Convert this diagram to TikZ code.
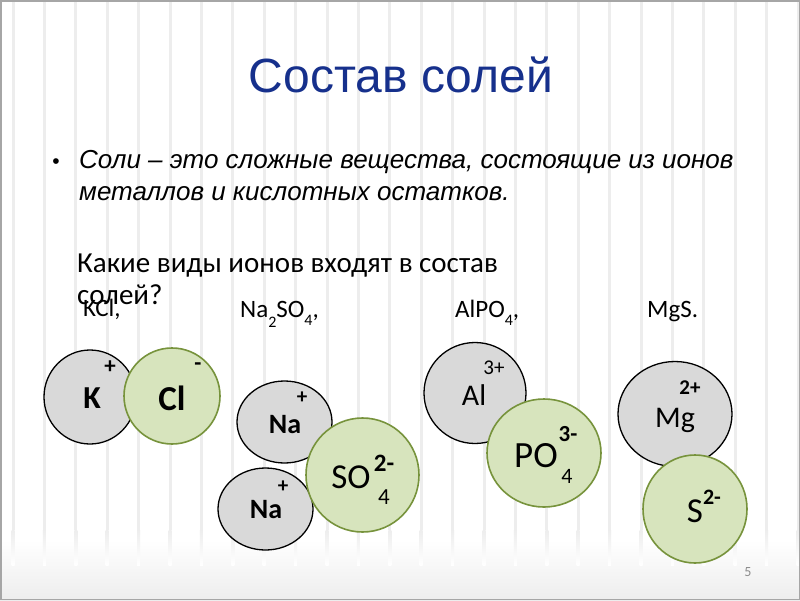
\documentclass[tikz,border=0pt]{standalone}
\usepackage{fontspec}
\setmainfont{Liberation Sans}
\newfontfamily\calibri{Carlito}
\usetikzlibrary{shapes.geometric, positioning}

\definecolor{titleblue}{RGB}{22,48,140}
\definecolor{catfill}{RGB}{217,217,217}
\definecolor{anfill}{RGB}{215,228,189}
\definecolor{anedge}{RGB}{119,147,60}
\definecolor{stripe}{RGB}{237,237,237}
\definecolor{pagegrey}{RGB}{140,140,140}

\newcommand\fsz[1]{\fontsize{#1}{#1}\selectfont}
\newcommand\lowsub[2]{\raisebox{-#1pt}{\fsz{16}#2}}

\begin{document}
\begin{tikzpicture}[x=1pt, y=-1pt,
    cation/.style = {ellipse, draw=black, fill=catfill, line width=1.3pt, inner sep=0pt},
    anion/.style = {ellipse, draw=anedge, fill=anfill, line width=1.6pt, inner sep=0pt},
    sym/.style = {anchor=base, inner sep=0pt, font=\calibri\fsz{32}},
    chg/.style = {inner sep=0pt, font=\calibri\bfseries\fsz{21}},
    formula/.style = {anchor=base west, inner sep=0pt, font=\calibri\fsz{25}}
    ]
    \useasboundingbox (0,0) rectangle (800,600);
    % background with stripes
    \fill[white] (0,0) rectangle (800,600);
    \shade[top color=white, bottom color=black!7] (0,540) rectangle (800,600);
    \foreach \sx in {0,...,25} {
        \fill[stripe] ({11.5+31.4*\sx},0) rectangle ++(3,530);
        \shade[top color=stripe, bottom color=white] ({11.5+31.4*\sx},530) rectangle ++(3,35);
    }
    \draw[black!35, line width=1.5pt] (0.75,0.75) rectangle (799.25,599.25);

    % texts
    \node (title) at (401,92) [anchor=base, inner sep=0pt, font=\fsz{48}, text=titleblue] {Состав солей};
    \node (bullet) at (56,168) [anchor=base, inner sep=0pt, font=\fsz{21}] {•};
    \node (def1) at (79,168) [anchor=base west, inner sep=0pt, font=\itshape\fsz{26}]
        {Соли – это сложные вещества, состоящие из ионов};
    \node (def2) at (79,200) [anchor=base west, inner sep=0pt, font=\itshape\fsz{26}]
        {металлов и кислотных остатков.};
    \node (ask1) at (77,272) [anchor=base west, inner sep=0pt, font=\calibri\fsz{29}]
        {Какие виды ионов входят в состав};
    \node (ask2) at (77,304) [anchor=base west, inner sep=0pt, font=\calibri\fsz{29}] {солей?};

    \node (kcl) at (83,316) [formula] {KCl,};
    \node (na2so4) at (240,317) [formula] {Na\lowsub{10}{2}SO\lowsub{8}{4},};
    \node (alpo4) at (455,317) [formula] {AlPO\lowsub{8}{4},};
    \node (mgs) at (647,317) [formula] {MgS.};

    % KCl
    \node (k) at (90,397) [cation, minimum width=92pt, minimum height=94pt] {};
    \node (cl) at (172,396) [anion, minimum width=96pt, minimum height=96pt] {};
    \node (kT) at (92,408) [sym, font=\calibri\bfseries\fsz{32}] {K};
    \node (kQ) at (110,367) [chg, font=\calibri\bfseries\fsz{23}] {+};
    \node (clT) at (172,410) [sym, font=\calibri\bfseries\fsz{35}] {Cl};
    \node (clQ) at (198,367) [chg, font=\calibri\bfseries\fsz{23}] {-};

    % Na2SO4
    \node (na1) at (284.5,422) [cation, minimum width=95pt, minimum height=82pt] {};
    \node (na2) at (265.5,509) [cation, minimum width=95pt, minimum height=82pt] {};
    \node (so4) at (362.5,475) [anion, minimum width=113pt, minimum height=114pt] {};
    \node (na1T) at (285,433) [sym, font=\calibri\bfseries\fsz{28}] {Na};
    \node (na1Q) at (302,398) [chg] {+};
    \node (na2T) at (266,518) [sym, font=\calibri\bfseries\fsz{28}] {Na};
    \node (na2Q) at (283,487) [chg] {+};
    \node (so4T) at (351,488) [sym, font=\calibri\fsz{35}] {SO};
    \node (so4Q) at (384,463) [chg, font=\calibri\bfseries\fsz{25}] {2-};
    \node (so4I) at (384,497) [chg, font=\calibri\fsz{23}] {4};

    % AlPO4
    \node (al) at (475,393) [cation, minimum width=102pt, minimum height=101pt] {};
    \node (po4) at (544,453) [anion, minimum width=114pt, minimum height=108pt] {};
    \node (alT) at (474,405) [sym, font=\calibri\fsz{30}] {Al};
    \node (alQ) at (494,368) [chg, font=\calibri\fsz{21}] {3+};
    \node (po4T) at (536,467) [sym, font=\calibri\fsz{37}] {PO};
    \node (po4Q) at (568,434) [chg, font=\calibri\bfseries\fsz{23}] {3-};
    \node (po4I) at (567,476) [chg, font=\calibri\fsz{22}] {4};

    % MgS
    \node (mg) at (675,414) [cation, minimum width=114pt, minimum height=105pt] {};
    \node (s) at (695,509) [anion, minimum width=104pt, minimum height=108pt] {};
    \node (mgT) at (675,427) [sym, font=\calibri\fsz{30}] {Mg};
    \node (mgQ) at (690,388) [chg] {2+};
    \node (sT) at (695,522) [sym, font=\calibri\fsz{35}] {S};
    \node (sQ) at (712,497) [chg, font=\calibri\bfseries\fsz{22}] {2-};

    \node (pagenum) at (748,572) [inner sep=0pt, font=\calibri\fsz{14}, text=pagegrey] {5};
\end{tikzpicture}
\end{document}
